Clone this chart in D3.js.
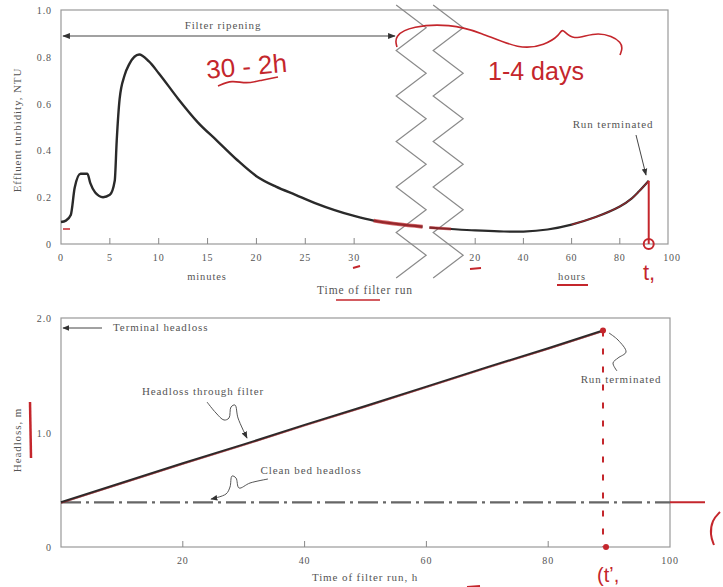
<!DOCTYPE html>
<html>
<head>
<meta charset="utf-8">
<script src="https://cdn.jsdelivr.net/npm/d3@7"></script>
<style>
  body { margin: 0; background: #fff; }
  svg text { font-family: "Liberation Serif", "DejaVu Serif", serif; fill: #555; letter-spacing: 0.9px; }
  svg text.hand { font-family: "Liberation Sans", sans-serif; letter-spacing: 0; }
</style>
</head>
<body>
<div id="chart"></div>
<script>
// effluent turbidity, first part of the run (minutes)
const turbMinutes = [
  [0, 0.094], [0.5, 0.1], [1, 0.124], [1.4, 0.24], [2, 0.3], [2.7, 0.3], [3, 0.26],
  [3.5, 0.22], [4.3, 0.2], [5, 0.21], [5.5, 0.27], [5.7, 0.44], [6, 0.62],
  [6.5, 0.72], [7, 0.77], [8, 0.81], [9, 0.78], [10, 0.73], [12, 0.62], [14, 0.52],
  [16, 0.44], [18, 0.36], [20, 0.29], [22, 0.245], [24, 0.21], [26, 0.175],
  [28, 0.145], [30, 0.12], [32, 0.1], [34.5, 0.085], [37, 0.074]
];
// effluent turbidity, rest of the run (hours)
const turbHours = [
  [1, 0.07], [10, 0.064], [20, 0.058], [30, 0.054], [40, 0.053], [50, 0.062],
  [60, 0.083], [70, 0.115], [80, 0.16], [85, 0.195], [88, 0.225], [92, 0.27]
];
// headloss through filter (hours, m)
const headloss = [
  [0, 0.39], [10, 0.56], [20, 0.73], [30, 0.895], [40, 1.065], [50, 1.23],
  [60, 1.4], [70, 1.57], [80, 1.735], [89, 1.89]
];
const cleanBed = 0.39;
const minuteTicks = [0, 5, 10, 15, 20, 25, 30];
const hourTicksTop = [20, 40, 60, 80, 100];
const turbTicks = [0, 0.2, 0.4, 0.6, 0.8, 1.0];
const hourTicksBottom = [20, 40, 60, 80, 100];
const headTicks = [0, 1.0, 2.0];

const W = 723, H = 587;
const red = "#c4262c";

const svg = d3.select("#chart").append("svg").attr("width", W).attr("height", H);

// arrow markers
const defs = svg.append("defs");
defs.append("marker").attr("id", "ah").attr("viewBox", "0 0 10 10").attr("refX", 9).attr("refY", 5)
  .attr("markerWidth", 7).attr("markerHeight", 7).attr("orient", "auto-start-reverse")
  .append("path").attr("d", "M0,1 L10,5 L0,9 z").attr("fill", "#333");

// ---------- top panel ----------
const xMin = d3.scaleLinear().domain([0, 35]).range([61, 403]);
const xHr = d3.scaleLinear().domain([0, 100]).range([427, 668]);
const yT = d3.scaleLinear().domain([0, 1]).range([244, 10]);

const topG = svg.append("g");
topG.append("rect").attr("x", 61).attr("y", 10).attr("width", 607).attr("height", 234)
  .attr("fill", "none").attr("stroke", "#999").attr("stroke-width", 1.2);

// inward ticks
topG.selectAll(".tm").data(minuteTicks.slice(1)).enter().append("line")
  .attr("x1", d => xMin(d)).attr("x2", d => xMin(d)).attr("y1", 244).attr("y2", 238)
  .attr("stroke", "#888");
topG.selectAll(".th").data(hourTicksTop.slice(0, -1)).enter().append("line")
  .attr("x1", d => xHr(d)).attr("x2", d => xHr(d)).attr("y1", 244).attr("y2", 238)
  .attr("stroke", "#888");

topG.selectAll(".lm").data(minuteTicks).enter().append("text")
  .attr("x", d => xMin(d)).attr("y", 261).attr("text-anchor", "middle")
  .attr("font-size", 10).text(d => d);
topG.selectAll(".lh").data(hourTicksTop).enter().append("text")
  .attr("x", d => xHr(d) + (d === 100 ? 4 : 0)).attr("y", 261).attr("text-anchor", "middle")
  .attr("font-size", 10).text(d => d);
topG.selectAll(".ly").data(turbTicks).enter().append("text")
  .attr("x", 52).attr("y", d => yT(d) + 4).attr("text-anchor", "end")
  .attr("font-size", 10).text(d => d === 0 ? "0" : d.toFixed(1));

topG.append("text").attr("x", 207).attr("y", 280).attr("text-anchor", "middle")
  .attr("font-size", 10.5).text("minutes");
topG.append("text").attr("x", 572).attr("y", 280).attr("text-anchor", "middle")
  .attr("font-size", 10.5).text("hours");
topG.append("text").attr("x", 365).attr("y", 294).attr("text-anchor", "middle")
  .attr("font-size", 11.5).text("Time of filter run");
topG.append("text").attr("transform", "translate(21,130) rotate(-90)")
  .attr("text-anchor", "middle").attr("font-size", 11).text("Effluent turbidity, NTU");

// break marks (zigzags)
const zig = (x0) => {
  const pts = [];
  for (let i = 0; i <= 12; i++) pts.push([i % 2 ? x0 + 30 : x0, 5 + i * 22.75]);
  return pts;
};
[xMin(34.3), xMin(34.3) + 37].forEach(x0 => {
  topG.append("path").attr("d", d3.line()(zig(x0)))
    .attr("fill", "none").attr("stroke", "#8a8a8a").attr("stroke-width", 1.2);
});

const lineMin = d3.line().x(d => xMin(d[0])).y(d => yT(d[1])).curve(d3.curveMonotoneX);
const lineHr = d3.line().x(d => xHr(d[0])).y(d => yT(d[1])).curve(d3.curveCatmullRom);
topG.append("path").attr("d", lineMin(turbMinutes)).attr("fill", "none")
  .attr("stroke", "#2a2a2a").attr("stroke-width", 2.4);
topG.append("path").attr("d", lineHr(turbHours)).attr("fill", "none")
  .attr("stroke", "#2a2a2a").attr("stroke-width", 2.2);
// red tracing
topG.append("path").attr("d", lineHr(turbHours.slice(6))).attr("fill", "none")
  .attr("stroke", red).attr("stroke-width", 1.2).attr("opacity", 0.7);
topG.append("path").attr("d", lineMin(turbMinutes.slice(-3))).attr("fill", "none")
  .attr("stroke", red).attr("stroke-width", 4).attr("opacity", 0.7);
topG.append("path").attr("d", lineHr(turbHours.slice(0, 2))).attr("fill", "none")
  .attr("stroke", red).attr("stroke-width", 3).attr("opacity", 0.6);

// filter ripening double arrow
topG.append("line").attr("x1", 63).attr("x2", 395).attr("y1", 36).attr("y2", 36)
  .attr("stroke", "#444").attr("stroke-width", 1.1)
  .attr("marker-start", "url(#ah)").attr("marker-end", "url(#ah)");
topG.append("text").attr("x", 223).attr("y", 29).attr("text-anchor", "middle")
  .attr("font-size", 11).text("Filter ripening");

// run terminated
topG.append("text").attr("x", 613).attr("y", 128).attr("text-anchor", "middle")
  .attr("font-size", 11).text("Run terminated");
topG.append("line").attr("x1", 636).attr("y1", 135).attr("x2", 646).attr("y2", 175)
  .attr("stroke", "#444").attr("marker-end", "url(#ah)");

// ---------- bottom panel ----------
const xB = d3.scaleLinear().domain([0, 100]).range([61, 670]);
const yB = d3.scaleLinear().domain([0, 2]).range([547, 318]);

const bot = svg.append("g");
bot.append("rect").attr("x", 61).attr("y", 318).attr("width", 609).attr("height", 229)
  .attr("fill", "none").attr("stroke", "#999").attr("stroke-width", 1.2);
bot.selectAll(".tb").data(hourTicksBottom.slice(0, -1)).enter().append("line")
  .attr("x1", d => xB(d)).attr("x2", d => xB(d)).attr("y1", 547).attr("y2", 541)
  .attr("stroke", "#888");
bot.selectAll(".lb").data(hourTicksBottom).enter().append("text")
  .attr("x", d => xB(d)).attr("y", 564).attr("text-anchor", "middle")
  .attr("font-size", 10).text(d => d);
bot.selectAll(".lyb").data(headTicks).enter().append("text")
  .attr("x", 52).attr("y", d => yB(d) + 4).attr("text-anchor", "end")
  .attr("font-size", 10).text(d => d === 0 ? "0" : d.toFixed(1));
bot.append("text").attr("x", 365).attr("y", 581).attr("text-anchor", "middle")
  .attr("font-size", 11).text("Time of filter run, h");
bot.append("text").attr("transform", "translate(21,440) rotate(-90)")
  .attr("text-anchor", "middle").attr("font-size", 11).text("Headloss, m");

// clean bed headloss (dash-dot)
bot.append("line").attr("x1", xB(0)).attr("x2", xB(100)).attr("y1", yB(cleanBed)).attr("y2", yB(cleanBed))
  .attr("stroke", "#666").attr("stroke-width", 2.4).attr("stroke-dasharray", "20 5 3 5");

// headloss through filter
const lineB = d3.line().x(d => xB(d[0])).y(d => yB(d[1]));
bot.append("path").attr("d", lineB(headloss)).attr("fill", "none")
  .attr("stroke", "#2a2a2a").attr("stroke-width", 2.2);
bot.append("path").attr("d", lineB(headloss)).attr("fill", "none")
  .attr("stroke", red).attr("stroke-width", 0.8).attr("opacity", 0.6)
  .attr("transform", "translate(0,1)");

// terminal headloss
bot.append("line").attr("x1", 102).attr("x2", 63).attr("y1", 328).attr("y2", 328)
  .attr("stroke", "#444").attr("marker-end", "url(#ah)");
bot.append("text").attr("x", 113).attr("y", 331).attr("font-size", 11).text("Terminal headloss");

const squiggle = (p) => d3.line().curve(d3.curveCatmullRom)(p);
bot.append("text").attr("x", 203).attr("y", 395).attr("text-anchor", "middle")
  .attr("font-size", 11).text("Headloss through filter");
bot.append("path").attr("d", squiggle([[207, 402], [216, 413], [224, 420], [229, 418], [231, 407], [235, 405], [238, 418], [247, 438]]))
  .attr("fill", "none").attr("stroke", "#555").attr("marker-end", "url(#ah)");

bot.append("text").attr("x", 311).attr("y", 474).attr("text-anchor", "middle")
  .attr("font-size", 11).text("Clean bed headloss");
bot.append("path").attr("d", squiggle([[268, 479], [250, 483], [239, 488], [236, 478], [232, 476], [230, 487], [226, 494], [211, 499]]))
  .attr("fill", "none").attr("stroke", "#555").attr("marker-end", "url(#ah)");

bot.append("text").attr("x", 621).attr("y", 383).attr("text-anchor", "middle")
  .attr("font-size", 11).text("Run terminated");
bot.append("path").attr("d", squiggle([[609, 333], [618, 340], [626, 352], [618, 358], [613, 363], [617, 371]]))
  .attr("fill", "none").attr("stroke", "#555");

// ---------- red handwritten notes ----------
const hand = svg.append("g");
hand.append("text").attr("class", "hand").attr("x", 206).attr("y", 75).attr("font-size", 26)
  .style("fill", red).attr("transform", "rotate(-5,250,65)").text("30 - 2h");
hand.append("path").attr("d", d3.line().curve(d3.curveBasis)([[218, 86], [232, 80], [246, 84], [262, 80], [278, 77]]))
  .attr("fill", "none").attr("stroke", red).attr("stroke-width", 1.6);
hand.append("path").attr("d", d3.line().curve(d3.curveBasis)([[397, 47], [394, 36], [412, 26], [450, 24], [480, 32], [520, 50], [545, 45], [560, 35], [562, 27], [572, 42], [598, 30], [625, 42], [620, 55]]))
  .attr("fill", "none").attr("stroke", red).attr("stroke-width", 1.6);
hand.append("text").attr("class", "hand").attr("x", 488).attr("y", 80).attr("font-size", 25)
  .style("fill", red).text("1-4 days");

// t1 on turbidity curve
hand.append("line").attr("x1", xHr(92)).attr("x2", xHr(92)).attr("y1", yT(0.27)).attr("y2", yT(0))
  .attr("stroke", red).attr("stroke-width", 2);
hand.append("circle").attr("cx", xHr(92)).attr("cy", yT(0)).attr("r", 5)
  .attr("fill", "none").attr("stroke", red).attr("stroke-width", 2);
hand.append("text").attr("class", "hand").attr("x", 643).attr("y", 280).attr("font-size", 22)
  .style("fill", red).text("t,");
hand.append("line").attr("x1", 353).attr("x2", 360).attr("y1", 268).attr("y2", 266).attr("stroke", red).attr("stroke-width", 2);
hand.append("line").attr("x1", 470).attr("x2", 481).attr("y1", 269).attr("y2", 268).attr("stroke", red).attr("stroke-width", 2);
hand.append("line").attr("x1", 557).attr("x2", 588).attr("y1", 285).attr("y2", 285).attr("stroke", red).attr("stroke-width", 2);
hand.append("line").attr("x1", 336).attr("x2", 380).attr("y1", 300).attr("y2", 300).attr("stroke", red).attr("stroke-width", 1.5);
hand.append("line").attr("x1", 63).attr("x2", 70).attr("y1", 229).attr("y2", 229).attr("stroke", red).attr("stroke-width", 1.5);

// t1 on headloss
hand.append("line").attr("x1", xB(89)).attr("x2", xB(89)).attr("y1", yB(1.89)).attr("y2", yB(0))
  .attr("stroke", red).attr("stroke-width", 2).attr("stroke-dasharray", "6 12");
hand.append("circle").attr("cx", xB(89) + 3).attr("cy", yB(0)).attr("r", 3).attr("fill", red);
hand.append("circle").attr("cx", xB(89)).attr("cy", yB(1.89)).attr("r", 3).attr("fill", red);
hand.append("text").attr("class", "hand").attr("x", 597).attr("y", 582).attr("font-size", 20)
  .style("fill", red).text("(t\u02BC,");
hand.append("line").attr("x1", 670).attr("x2", 705).attr("y1", yB(cleanBed)).attr("y2", yB(cleanBed))
  .attr("stroke", red).attr("stroke-width", 2);
hand.append("path").attr("d", d3.line().curve(d3.curveBasis)([[720, 512], [712, 520], [710, 535], [714, 545]]))
  .attr("fill", "none").attr("stroke", red).attr("stroke-width", 2);
hand.append("line").attr("x1", 30).attr("x2", 31).attr("y1", 402).attr("y2", 458)
  .attr("stroke", red).attr("stroke-width", 2.5);
hand.append("line").attr("x1", 467).attr("x2", 480).attr("y1", 587).attr("y2", 586)
  .attr("stroke", red).attr("stroke-width", 2);
</script>
</body>
</html>
